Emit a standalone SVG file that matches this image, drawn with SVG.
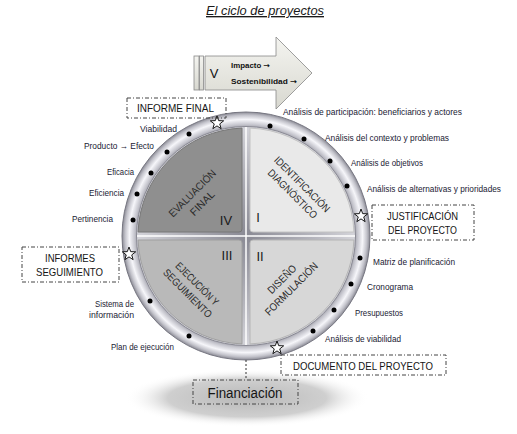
<svg xmlns="http://www.w3.org/2000/svg" width="517" height="434" viewBox="0 0 517 434">
<defs>
<style>
.lbl{font-family:"Liberation Sans",Arial,sans-serif;font-size:9px;fill:#1a1a33}
.arr{font-family:"DejaVu Sans",sans-serif;font-weight:bold}
.box{fill:none;stroke:#444;stroke-width:1;stroke-dasharray:4 2 1 2}
.btx{font-family:"Liberation Sans",Arial,sans-serif;font-size:11.5px;fill:#151515;text-anchor:middle}
.qt{font-family:"Liberation Sans",Arial,sans-serif;font-size:10.5px;fill:#2a2a2a;text-anchor:middle}
.num{font-family:"Liberation Sans",Arial,sans-serif;font-size:13px;fill:#1a1a1a;text-anchor:middle}
.dot{fill:#000}
.conn{fill:none;stroke:#333;stroke-width:1;stroke-dasharray:2 2}
</style>
<radialGradient id="ringG" gradientUnits="userSpaceOnUse" cx="246" cy="236" r="124">
<stop offset="0.86" stop-color="#8a8a94"/>
<stop offset="0.9" stop-color="#c6c6ce"/>
<stop offset="0.94" stop-color="#f6f6fa"/>
<stop offset="0.975" stop-color="#c2c2ca"/>
<stop offset="1" stop-color="#8a8a94"/>
</radialGradient>
<radialGradient id="innerG" gradientUnits="userSpaceOnUse" cx="246" cy="236" r="110">
<stop offset="0" stop-color="#8a8a94"/>
<stop offset="0.6" stop-color="#b4b4bc"/>
<stop offset="1" stop-color="#d4d4da"/>
</radialGradient>
<radialGradient id="shadowG" cx="0.5" cy="0.5" r="0.5">
<stop offset="0" stop-color="#b8b8b8"/>
<stop offset="0.65" stop-color="#cfcfcf"/>
<stop offset="1" stop-color="#ffffff" stop-opacity="0"/>
</radialGradient>
<linearGradient id="arrowG" x1="0" y1="0" x2="0" y2="1">
<stop offset="0" stop-color="#f4f4f0"/>
<stop offset="1" stop-color="#d8d8d0"/>
</linearGradient>
<path id="star" d="M0,-7 L1.70,-2.35 L6.66,-2.16 L2.76,0.90 L4.11,5.66 L0,2.9 L-4.11,5.66 L-2.76,0.90 L-6.66,-2.16 L-1.70,-2.35 Z" fill="#fff" stroke="#000" stroke-width="0.9"/>
</defs>
<rect width="517" height="434" fill="#fff"/>

<text x="265" y="15" text-anchor="middle" font-family="'Liberation Sans',Arial,sans-serif" font-size="13.5" font-style="italic" text-decoration="underline" fill="#1a1a1a" textLength="118" lengthAdjust="spacingAndGlyphs">El ciclo de proyectos</text>

<g id="financiacion-shadow">
<ellipse cx="247" cy="398" rx="122" ry="29" fill="url(#shadowG)"/>
</g>

<g id="fase-V">
<rect x="194" y="56" width="5" height="34" fill="url(#arrowG)" stroke="#888" stroke-width="0.8"/>
<rect x="199.5" y="56" width="4" height="34" fill="url(#arrowG)" stroke="#888" stroke-width="0.8"/>
<path d="M205,56 L276,56 L276,37 L312,73 L276,109 L276,90 L205,90 Z" fill="url(#arrowG)" stroke="#888" stroke-width="0.8"/>
<text x="214" y="78" text-anchor="middle" font-family="'Liberation Sans',Arial,sans-serif" font-size="13" fill="#111">V</text>
<text x="231" y="68" font-family="'Liberation Sans',Arial,sans-serif" font-size="7.5" font-weight="bold" fill="#111" textLength="39" lengthAdjust="spacingAndGlyphs">Impacto <tspan class="arr">→</tspan></text>
<text x="231" y="84" font-family="'Liberation Sans',Arial,sans-serif" font-size="7.5" font-weight="bold" fill="#111" textLength="66" lengthAdjust="spacingAndGlyphs">Sostenibilidad <tspan class="arr">→</tspan></text>
</g>

<g id="ciclo">
<circle cx="246" cy="236" r="124" fill="url(#ringG)" stroke="#777782" stroke-width="1"/>
<circle cx="246" cy="236" r="109.5" fill="url(#innerG)" stroke="#8a8a94" stroke-width="1"/>
<line x1="246" y1="127" x2="246" y2="345" stroke="#fff" stroke-opacity="0.75" stroke-width="2"/>
<line x1="137" y1="236" x2="355" y2="236" stroke="#fff" stroke-opacity="0.75" stroke-width="2"/>
</g>

<g id="fase-IV">
<path d="M242,229 L242,128.07 A108,108 0 0 0 138.07,232 L239,232 Q242,232 242,229 Z" fill="#8f8f8f" stroke="#777" stroke-width="1"/>
<g transform="translate(197,198) rotate(-45)">
<text class="qt" y="-3" textLength="62" lengthAdjust="spacingAndGlyphs">EVALUACIÓN</text>
<text class="qt" y="11" textLength="30" lengthAdjust="spacingAndGlyphs">FINAL</text>
</g>
<text class="num" x="226" y="225">IV</text>
</g>

<g id="fase-I">
<path d="M250,229 L250,128.07 A108,108 0 0 1 353.93,232 L253,232 Q250,232 250,229 Z" fill="#e9e9e9" stroke="#c4c4c4" stroke-width="1"/>
<g transform="translate(297.5,189) rotate(45)">
<text class="qt" y="-3" textLength="74" lengthAdjust="spacingAndGlyphs">IDENTIFICACIÓN</text>
<text class="qt" y="10.5" textLength="65" lengthAdjust="spacingAndGlyphs">DIAGNÓSTICO</text>
</g>
<text class="num" x="258" y="222">I</text>
</g>

<g id="fase-III">
<path d="M242,243 L242,343.93 A108,108 0 0 1 138.07,240 L239,240 Q242,240 242,243 Z" fill="#b9b9b9" stroke="#a0a0a0" stroke-width="1"/>
<g transform="translate(192.5,288.5) rotate(45)">
<text class="qt" y="-3" textLength="56" lengthAdjust="spacingAndGlyphs">EJECUCIÓN Y</text>
<text class="qt" y="10.5" textLength="64" lengthAdjust="spacingAndGlyphs">SEGUIMIENTO</text>
</g>
<text class="num" x="227" y="260">III</text>
</g>

<g id="fase-II">
<path d="M250,243 L250,343.93 A108,108 0 0 0 353.93,240 L253,240 Q250,240 250,243 Z" fill="#d7d7d7" stroke="#b6b6b6" stroke-width="1"/>
<g transform="translate(286.5,284) rotate(-45)">
<text class="qt" y="-3" textLength="36" lengthAdjust="spacingAndGlyphs">DISEÑO</text>
<text class="qt" y="10.5" textLength="70" lengthAdjust="spacingAndGlyphs">FORMULACIÓN</text>
</g>
<text class="num" x="260" y="261">II</text>
</g>

<g id="puntos">
<circle class="dot" cx="270" cy="126" r="2.5"/>
<circle class="dot" cx="304" cy="139" r="2.5"/>
<circle class="dot" cx="330" cy="161" r="2.5"/>
<circle class="dot" cx="347" cy="186" r="2.5"/>
<circle class="dot" cx="360" cy="258" r="2.5"/>
<circle class="dot" cx="351" cy="284" r="2.5"/>
<circle class="dot" cx="334" cy="310" r="2.5"/>
<circle class="dot" cx="313" cy="331" r="2.5"/>
<circle class="dot" cx="189" cy="134" r="2.5"/>
<circle class="dot" cx="167" cy="152" r="2.5"/>
<circle class="dot" cx="151" cy="173" r="2.5"/>
<circle class="dot" cx="137" cy="194" r="2.5"/>
<circle class="dot" cx="133" cy="220" r="2.5"/>
<circle class="dot" cx="150" cy="301" r="2.5"/>
<circle class="dot" cx="189" cy="336" r="2.5"/>
<use href="#star" x="217" y="123"/>
<use href="#star" x="361" y="216"/>
<use href="#star" x="129" y="254"/>
<use href="#star" x="277" y="348"/>
</g>

<g id="etiquetas" xml:space="preserve">
<text class="lbl" x="283" y="115" textLength="179" lengthAdjust="spacingAndGlyphs">Análisis de participación: beneficiarios  y  actores</text>
<text class="lbl" x="325" y="141" textLength="124" lengthAdjust="spacingAndGlyphs">Análisis del contexto y  problemas</text>
<text class="lbl" x="351" y="166" textLength="72" lengthAdjust="spacingAndGlyphs">Análisis de objetivos</text>
<text class="lbl" x="367" y="192" textLength="134" lengthAdjust="spacingAndGlyphs">Análisis de alternativas y prioridades</text>
<text class="lbl" x="373" y="265" textLength="82" lengthAdjust="spacingAndGlyphs">Matriz de planificación</text>
<text class="lbl" x="367" y="290" textLength="46" lengthAdjust="spacingAndGlyphs">Cronograma</text>
<text class="lbl" x="355" y="316" textLength="48" lengthAdjust="spacingAndGlyphs">Presupuestos</text>
<text class="lbl" x="325" y="342" textLength="76" lengthAdjust="spacingAndGlyphs">Análisis de viabilidad</text>
<text class="lbl" x="111" y="350" textLength="63" lengthAdjust="spacingAndGlyphs">Plan de ejecución</text>
<text class="lbl" x="95" y="307" textLength="39" lengthAdjust="spacingAndGlyphs">Sistema de</text>
<text class="lbl" x="89" y="318" textLength="45" lengthAdjust="spacingAndGlyphs">información</text>
<text class="lbl" x="72" y="222" textLength="41" lengthAdjust="spacingAndGlyphs">Pertinencia</text>
<text class="lbl" x="89" y="196" textLength="35" lengthAdjust="spacingAndGlyphs">Eficiencia</text>
<text class="lbl" x="107" y="175" textLength="27" lengthAdjust="spacingAndGlyphs">Eficacia</text>
<text class="lbl" x="84" y="149" textLength="70" lengthAdjust="spacingAndGlyphs">Producto → Efecto</text>
<text class="lbl" x="140" y="132" textLength="37" lengthAdjust="spacingAndGlyphs">Viabilidad</text>
</g>

<g id="conectores">
<line class="conn" x1="246" y1="360" x2="246" y2="380"/>
</g>

<g id="informe-final">
<rect class="box" x="127" y="98" width="99" height="20"/>
<text class="btx" x="175.5" y="112" textLength="77" lengthAdjust="spacingAndGlyphs">INFORME FINAL</text>
</g>
<g id="justificacion">
<rect class="box" x="372" y="205" width="102" height="35"/>
<text class="btx" x="422.5" y="220" textLength="71" lengthAdjust="spacingAndGlyphs">JUSTIFICACIÓN</text>
<text class="btx" x="422.5" y="234" textLength="69" lengthAdjust="spacingAndGlyphs">DEL PROYECTO</text>
</g>
<g id="informes-seguimiento">
<rect class="box" x="22" y="247" width="97" height="35"/>
<text class="btx" x="70" y="262" textLength="50" lengthAdjust="spacingAndGlyphs">INFORMES</text>
<text class="btx" x="69.5" y="276" textLength="67" lengthAdjust="spacingAndGlyphs">SEGUIMIENTO</text>
</g>
<g id="documento">
<rect class="box" x="281" y="355" width="165" height="20"/>
<text class="btx" x="363" y="370" textLength="140" lengthAdjust="spacingAndGlyphs">DOCUMENTO DEL PROYECTO</text>
</g>
<g id="financiacion">
<rect class="box" x="193" y="380" width="105" height="24"/>
<text x="245" y="398" text-anchor="middle" font-family="'Liberation Sans',Arial,sans-serif" font-size="14" fill="#151515" textLength="75" lengthAdjust="spacingAndGlyphs">Financiación</text>
</g>
</svg>
